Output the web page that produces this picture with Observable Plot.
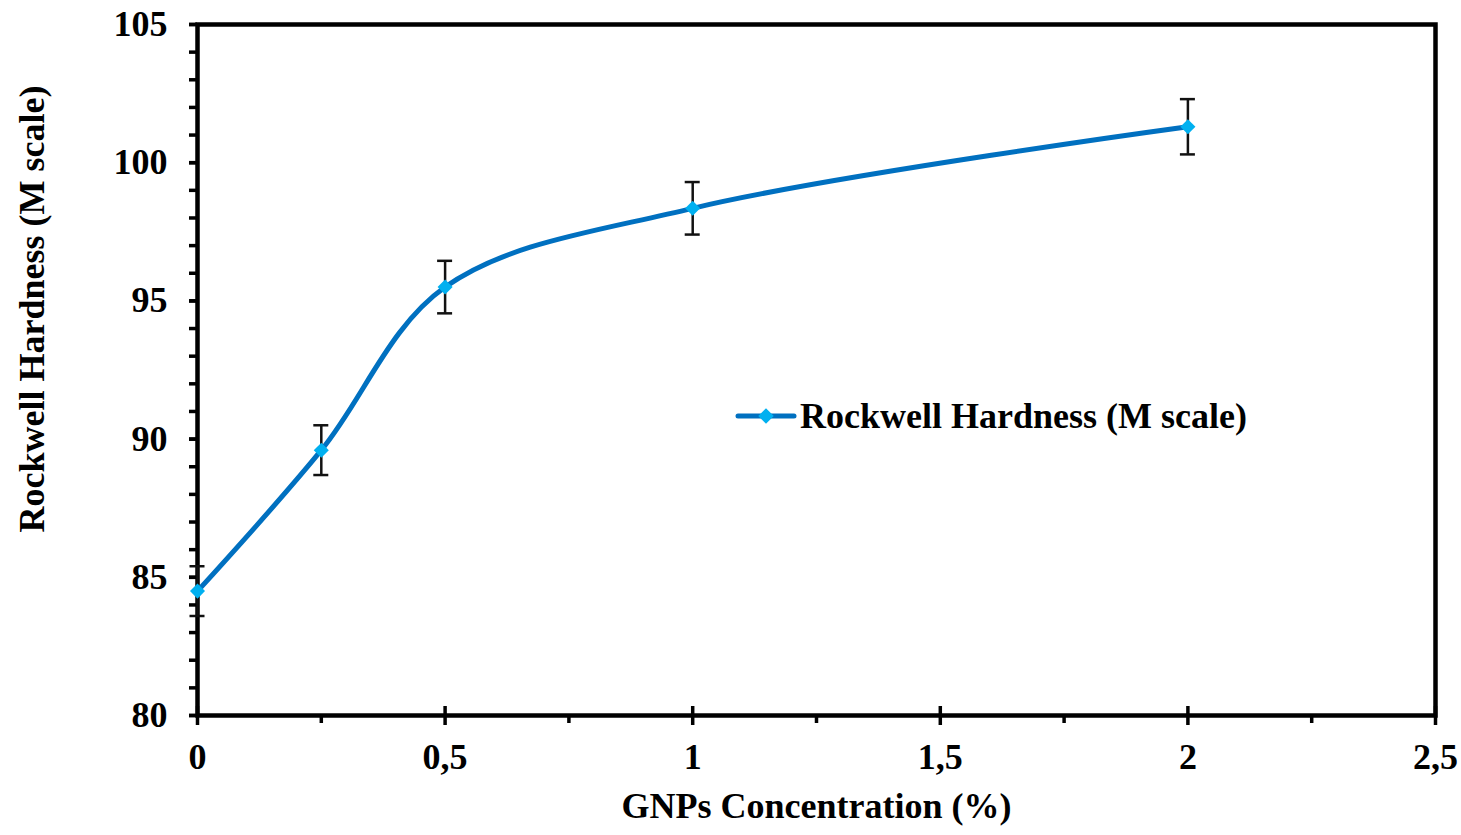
<!DOCTYPE html>
<html>
<head>
<meta charset="utf-8">
<script src="https://cdn.jsdelivr.net/npm/d3@7"></script>
<script src="https://cdn.jsdelivr.net/npm/@observablehq/plot@0.6"></script>
<style>
  html, body { margin: 0; padding: 0; background: #fff; }
  #wrap { position: relative; width: 1461px; height: 835px; }
  #legend { position: absolute; left: 735px; top: 396px; display: flex; align-items: center; line-height: 40px;
    font-family: "Liberation Serif", "Times New Roman", serif; font-weight: bold; font-size: 36px; color: #000; }
  #legend svg { margin-right: 3px; }
</style>
</head>
<body>
<div id="wrap"><div id="legend"></div></div>
<script>
const concentration = [0, 0.25, 0.5, 1, 2];
const hardness = [84.5, 89.6, 95.5, 98.35, 101.3];
const errorBar = [0.9, 0.9, 0.95, 0.95, 1.0];
const xMajorTicks = [0, 0.5, 1, 1.5, 2, 2.5];
const xMinorTicks = [0.25, 0.75, 1.25, 1.75, 2.25];
const yMajorTicks = [80, 85, 90, 95, 100, 105];
const yMinorTicks = d3.range(80, 106, 1);
const seriesName = "Rockwell Hardness (M scale)";
const xTitle = "GNPs Concentration (%)";
const yTitle = "Rockwell Hardness (M scale)";

const data = concentration.map((c, i) => ({x: c, y: hardness[i], lo: hardness[i] - errorBar[i], hi: hardness[i] + errorBar[i]}));
const fmt = d => String(d).replace(".", ",");

const chart = Plot.plot({
  width: 1461,
  height: 835,
  marginLeft: 197,
  marginRight: 26,
  marginTop: 24,
  marginBottom: 120,
  style: {fontFamily: "'Liberation Serif', 'Times New Roman', serif", fontWeight: "bold", fontSize: "36px", color: "#000", background: "#fff"},
  x: {domain: [0, 2.5]},
  y: {domain: [80, 105]},
  marks: [
    Plot.axisY({ticks: yMinorTicks, tickSize: 8, strokeWidth: 3.5, tickFormat: () => "", label: null}),
    Plot.axisY({ticks: yMajorTicks, tickSize: 8, strokeWidth: 3.5, tickPadding: 22, tickFormat: fmt, label: null, fontSize: 36}),
    Plot.axisX({ticks: xMinorTicks, tickSize: 8, strokeWidth: 3.5, tickFormat: () => "", label: null}),
    Plot.axisX({ticks: xMajorTicks, tickSize: 10, strokeWidth: 3.5, tickPadding: 18, tickFormat: fmt, label: null, fontSize: 36}),
    Plot.axisX({ticks: xMajorTicks, tickSize: -9, strokeWidth: 3.5, tickFormat: () => "", label: null}),
    Plot.frame({stroke: "#000", strokeWidth: 4.5}),
    Plot.text([xTitle], {frameAnchor: "bottom", dy: 102, text: d => d, fontSize: 36, lineAnchor: "bottom"}),
    Plot.text([yTitle], {frameAnchor: "left", dx: -165, dy: -61, rotate: -90, textAnchor: "middle", text: d => d, fontSize: 36}),
    Plot.ruleX(data, {x: "x", y1: "lo", y2: "hi", stroke: "#111", strokeWidth: 2.5}),
    Plot.ruleY(data, {y: "lo", x1: "x", x2: "x", insetLeft: -7.5, insetRight: -7.5, stroke: "#111", strokeWidth: 2.5}),
    Plot.ruleY(data, {y: "hi", x1: "x", x2: "x", insetLeft: -7.5, insetRight: -7.5, stroke: "#111", strokeWidth: 2.5}),
    Plot.line(data, {x: "x", y: "y", curve: "catmull-rom", stroke: "#0070C0", strokeWidth: 5}),
    Plot.dot(data, {x: "x", y: "y", symbol: "square", rotate: 45, r: 6, fill: "#00B0F0", stroke: "none"})
  ]
});
document.getElementById("wrap").prepend(chart);

// Legend
const lg = document.getElementById("legend");
const sw = d3.create("svg").attr("width", 62).attr("height", 20);
sw.append("line").attr("x1", 3).attr("x2", 59).attr("y1", 10).attr("y2", 10).attr("stroke", "#0070C0").attr("stroke-width", 5).attr("stroke-linecap", "round");
sw.append("rect").attr("x", -5.5).attr("y", -5.5).attr("width", 11).attr("height", 11).attr("transform", "translate(31,10) rotate(45)").attr("fill", "#00B0F0");
lg.appendChild(sw.node());
const t = document.createElement("span"); t.textContent = seriesName; lg.appendChild(t);
</script>
</body>
</html>
